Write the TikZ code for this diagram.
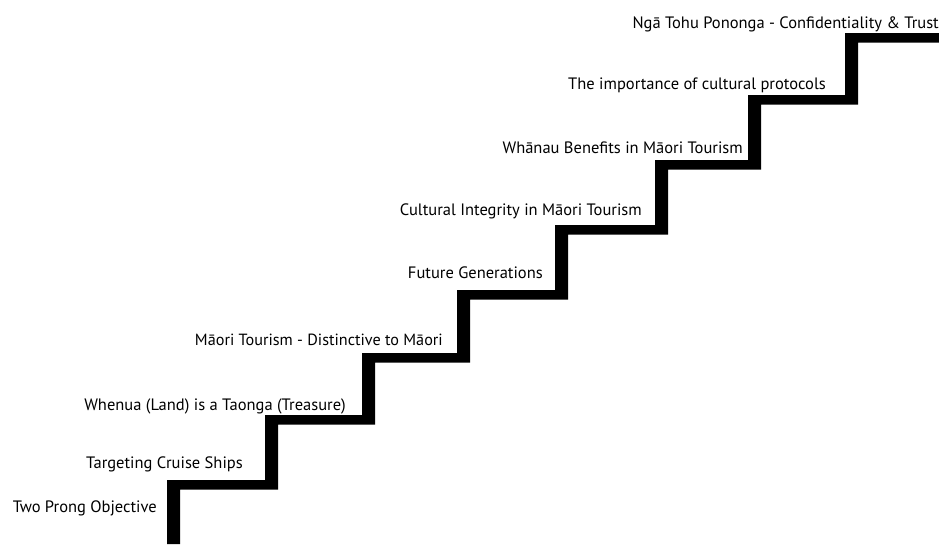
\documentclass[tikz,border=0pt]{standalone}
\usepackage{fontspec}
\setmainfont{PT Sans}
\tikzset{
  stairfill/.style={fill=black, draw=none},
  steplabel/.style={anchor=base east, inner sep=0pt, font=\fontsize{16.5}{19}\selectfont},
}
\begin{document}
\begin{tikzpicture}[x=1pt, y=-1pt]
  \useasboundingbox (0,0) rectangle (939,544);
  % staircase: outer edge up the steps, inner edge back down
  \fill[stairfill]
    (167,544) -- (167,480) -- (265,480) -- (265,415) -- (362,415) -- (362,353)
    -- (457,353) -- (457,290) -- (555,290) -- (555,225) -- (655,225) -- (655,160)
    -- (748,160) -- (748,95) -- (845,95) -- (845,33) -- (939,33)
    -- (939,42.5) -- (858,42.5) -- (858,104.5) -- (761,104.5) -- (761,169.5)
    -- (668,169.5) -- (668,234.5) -- (568,234.5) -- (568,299.5) -- (470,299.5)
    -- (470,362.5) -- (375,362.5) -- (375,424.5) -- (278,424.5) -- (278,489.5)
    -- (180,489.5) -- (180,544) -- cycle;
  % labels
  \node[steplabel] (s1) at (157,512) {Two Prong Objective};
  \node[steplabel] (s2) at (243,468) {Targeting Cruise Ships};
  \node[steplabel] (s3) at (346,410) {Whenua (Land) is a Taonga (Treasure)};
  \node[steplabel, font=\fontsize{16.2}{19}\selectfont] (s4) at (443,345) {Māori Tourism - Distinctive to Māori};
  \node[steplabel] (s5) at (543,278) {Future Generations};
  \node[steplabel] (s6) at (642,215) {Cultural Integrity in Māori Tourism};
  \node[steplabel] (s7) at (743,153) {Whānau Benefits in Māori Tourism};
  \node[steplabel] (s8) at (826,89) {The importance of cultural protocols};
  \node[steplabel] (s9) at (939,28) {Ngā Tohu Pononga - Confidentiality \& Trust};
\end{tikzpicture}
\end{document}
